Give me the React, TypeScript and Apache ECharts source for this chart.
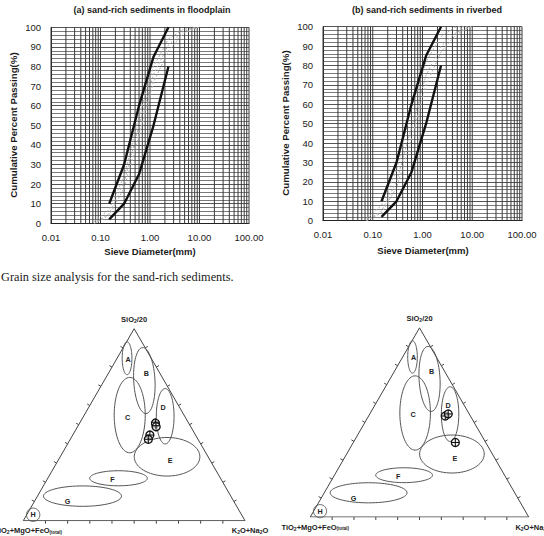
import React, { useEffect, useRef } from 'react';
import * as echarts from 'echarts';

const SANS = '"Liberation Sans", Arial, Helvetica, sans-serif';
const SERIF = '"Liberation Serif", "Times New Roman", serif';

// ---------- grain size data ----------
const envelopeSizes = [0.15, 0.3, 0.6, 1.18, 2.36];
const upperPassing = [10, 30, 60, 85, 100];
const lowerPassing = [2, 10, 25, 50, 80];

const sampleSizes = [0.075, 0.15, 0.3, 0.6, 1.18, 2.36, 4.75, 9.5];
const floodplainSamples = [
  [0, 4, 18, 45, 72, 88, 97, 100],
  [1, 7, 24, 55, 80, 94, 99, 100],
  [0, 5, 21, 50, 76, 91, 98, 100],
];
const riverbedSamples = [
  [0, 5, 20, 48, 75, 90, 97, 100],
  [1, 8, 26, 58, 82, 95, 100, 100],
  [0, 4, 17, 42, 70, 87, 96, 100],
];

const decadeStarts = [0.01, 0.1, 1, 10];
const decadeMultipliers = [1, 2, 3, 4, 5, 6, 7, 8, 9];

// ---------- ternary data ----------
const fieldNames = ['A', 'B', 'C', 'D', 'E', 'F', 'G', 'H'];
const fieldSiO2 = [84.6, 73.0, 55.0, 54.4, 33.3, 22.1, 12.8, 3.1];
const fieldAlkali = [4.5, 18.1, 20.5, 36.8, 48.2, 31.9, 20.3, 2.9];
const fieldRx = [0.022, 0.048, 0.07, 0.04, 0.148, 0.13, 0.176, 0.03];
const fieldRy = [0.074, 0.149, 0.17, 0.125, 0.087, 0.034, 0.046, 0.03];
const fieldTilt = [0, -3, 0, 0, 0, 0, 0, 0];
const labelOffsets = [[1, 1], [2, -7], [-2, 2], [-2, -9], [3, 4], [-6, 1.5], [-15, 5.5], [0, 0]];

const floodplainSiO2 = [51.3, 49.5, 44.6, 42.4];
const floodplainAlkali = [33.9, 35.1, 34.8, 35.2];
const riverbedSiO2 = [53.4, 54.5, 39.4];
const riverbedAlkali = [35.1, 35.9, 46.7];

const tickFractions = [0.1, 0.2, 0.3, 0.4, 0.5, 0.6, 0.7, 0.8, 0.9];

const H3 = Math.sqrt(3) / 2;
function tern(si: number, alk: number): [number, number] {
  const a = si / 100;
  const c = alk / 100;
  return [c + a / 2, a * H3];
}

function buildOption() {
  const logGrid: number[][] = [];
  decadeStarts.forEach((d) => decadeMultipliers.forEach((m) => logGrid.push([d * m, 0])));
  logGrid.push([100, 0]);

  const grainX = (i: number) => ({
    type: 'log',
    logBase: 10,
    gridIndex: i,
    min: 0.01,
    max: 100,
    axisLine: { show: true, lineStyle: { color: '#222', width: 1 } },
    axisTick: { show: false },
    splitLine: { show: false },
    axisLabel: {
      formatter: (v: number) => Number(v).toFixed(2),
      fontSize: 9.5,
      fontFamily: SANS,
      color: '#1a1a1a',
      margin: 9,
    },
  });
  const grainY = (i: number) => ({
    type: 'value',
    gridIndex: i,
    min: 0,
    max: 100,
    interval: 10,
    axisLine: { show: true, lineStyle: { color: '#222', width: 1 } },
    axisTick: { show: false },
    splitLine: { show: true, lineStyle: { color: '#555', width: 1 } },
    minorTick: { show: false, splitNumber: 5 },
    minorSplitLine: { show: true, lineStyle: { color: '#7a7a7a', width: 1 } },
    axisLabel: { fontSize: 9.5, fontFamily: SANS, color: '#1a1a1a', margin: 10 },
  });
  const hidden = (i: number) => ({ type: 'value', gridIndex: i, min: 0, max: 1, show: false });

  const series: any[] = [];
  [0, 1].forEach((g) => {
    series.push({
      type: 'custom',
      xAxisIndex: g,
      yAxisIndex: g,
      silent: true,
      z: 1,
      data: logGrid,
      encode: { x: 0, y: 1 },
      renderItem: (_p: any, api: any) => {
        const v = api.value(0);
        const p1 = api.coord([v, 0]);
        const p2 = api.coord([v, 100]);
        return {
          type: 'line',
          shape: { x1: p1[0], y1: p1[1], x2: p2[0], y2: p2[1] },
          style: { stroke: '#3a3a3a', lineWidth: 1 },
        };
      },
    });
    const samples = g === 0 ? floodplainSamples : riverbedSamples;
    samples.forEach((s) => {
      series.push({
        type: 'line',
        xAxisIndex: g,
        yAxisIndex: g,
        data: sampleSizes.map((x, k) => [x, s[k]]),
        symbol: 'none',
        z: 3,
        lineStyle: { color: '#b0b0b0', width: 1, type: [2, 2] },
      });
    });
    [upperPassing, lowerPassing].forEach((env) => {
      series.push({
        type: 'line',
        xAxisIndex: g,
        yAxisIndex: g,
        data: envelopeSizes.map((x, k) => [x, env[k]]),
        symbol: 'none',
        z: 5,
        lineStyle: { color: '#111', width: 2.4 },
      });
    });
  });

  const fieldData = fieldNames.map((_n, i) => {
    const [x, y] = tern(fieldSiO2[i], fieldAlkali[i]);
    return [x, y, fieldRx[i], fieldRy[i], fieldTilt[i], i];
  });
  const tickData: number[][] = [];
  [0, 1, 2].forEach((side) => tickFractions.forEach((f) => tickData.push([side, f])));

  [2, 3].forEach((g) => {
    series.push({
      type: 'line',
      xAxisIndex: g,
      yAxisIndex: g,
      data: [[0, 0], [1, 0], [0.5, H3], [0, 0]],
      symbol: 'none',
      z: 2,
      lineStyle: { color: '#444', width: 1 },
    });
    series.push({
      type: 'custom',
      xAxisIndex: g,
      yAxisIndex: g,
      silent: true,
      z: 2,
      data: tickData,
      renderItem: (_p: any, api: any) => {
        const side = api.value(0);
        const f = api.value(1);
        let pt: number[];
        let n: number[];
        if (side === 0) {
          pt = [f, 0];
          n = [0, 1];
        } else if (side === 1) {
          pt = [f * 0.5, f * H3];
          n = [-H3, -0.5];
        } else {
          pt = [1 - f * 0.5, f * H3];
          n = [H3, -0.5];
        }
        const c = api.coord(pt);
        return {
          type: 'line',
          shape: { x1: c[0], y1: c[1], x2: c[0] + n[0] * 3, y2: c[1] + n[1] * 3 },
          style: { stroke: '#444', lineWidth: 1 },
        };
      },
    });
    series.push({
      type: 'custom',
      xAxisIndex: g,
      yAxisIndex: g,
      silent: true,
      z: 3,
      data: fieldData,
      renderItem: (_p: any, api: any) => {
        const c = api.coord([api.value(0), api.value(1)]);
        const s = api.size([api.value(2), api.value(3)]);
        const rot = (api.value(4) * Math.PI) / 180;
        const idx = api.value(5);
        const pts: number[][] = [];
        for (let k = 0; k < 72; k++) {
          const t = (k / 72) * Math.PI * 2;
          const ex = s[0] * Math.cos(t);
          const ey = s[1] * Math.sin(t);
          pts.push([c[0] + ex * Math.cos(rot) - ey * Math.sin(rot), c[1] + ex * Math.sin(rot) + ey * Math.cos(rot)]);
        }
        const off = labelOffsets[idx];
        return {
          type: 'group',
          children: [
            { type: 'polygon', shape: { points: pts }, style: { fill: 'none', stroke: '#555', lineWidth: 1 } },
            {
              type: 'text',
              x: c[0] + off[0],
              y: c[1] + off[1],
              style: {
                text: fieldNames[idx],
                font: 'bold 7.2px ' + SANS,
                fill: '#222',
                align: 'center',
                verticalAlign: 'middle',
              },
            },
          ],
        };
      },
    });
    const si = g === 2 ? floodplainSiO2 : riverbedSiO2;
    const al = g === 2 ? floodplainAlkali : riverbedAlkali;
    series.push({
      type: 'custom',
      xAxisIndex: g,
      yAxisIndex: g,
      silent: true,
      z: 4,
      data: si.map((v, k) => tern(v, al[k])),
      renderItem: (_p: any, api: any) => {
        const c = api.coord([api.value(0), api.value(1)]);
        const r = 4;
        return {
          type: 'group',
          children: [
            { type: 'circle', shape: { cx: c[0], cy: c[1], r }, style: { fill: 'rgba(255,255,255,0.6)', stroke: '#111', lineWidth: 1.3 } },
            { type: 'line', shape: { x1: c[0] - r, y1: c[1], x2: c[0] + r, y2: c[1] }, style: { stroke: '#111', lineWidth: 1.1 } },
            { type: 'line', shape: { x1: c[0], y1: c[1] - r, x2: c[0], y2: c[1] + r }, style: { stroke: '#111', lineWidth: 1.1 } },
          ],
        };
      },
    });
  });

  const txt = (x: number, y: number, text: string, font: string, align = 'center', extra: any = {}) => ({
    type: 'text',
    x,
    y,
    silent: true,
    ...extra,
    style: { text, font, fill: '#1a1a1a', textAlign: align, textVerticalAlign: 'middle' },
  });
  const subRich = {
    s: { font: 'bold 5px ' + SANS, fill: '#222', verticalAlign: 'bottom', padding: [3, 0, 0, 0] },
    t: { font: 'bold 4.5px ' + SANS, fill: '#222', verticalAlign: 'bottom', padding: [3, 0, 0, 0] },
    m: { font: 'bold 7.5px ' + SANS, fill: '#222' },
  };
  const ternLabels = (ox: number, oy: number, w: number) => {
    const apexX = ox + w / 2;
    const apexY = oy - w * H3;
    return [
      {
        type: 'text', x: apexX, y: apexY - 9, silent: true,
        style: { text: '{m|SiO}{s|2}{m|/20}', rich: subRich, textAlign: 'center', textVerticalAlign: 'middle' },
      },
      {
        type: 'text', x: ox + 5, y: oy + 10, silent: true,
        style: { text: '{m|TiO}{s|2}{m|+MgO+FeO}{t|(total)}', rich: subRich, textAlign: 'center', textVerticalAlign: 'middle' },
      },
      {
        type: 'text', x: ox + w + 5, y: oy + 10, silent: true,
        style: { text: '{m|K}{s|2}{m|O+Na}{s|2}{m|O}', rich: subRich, textAlign: 'center', textVerticalAlign: 'middle' },
      },
    ];
  };

  const graphic: any[] = [
    txt(152, 10, '(a) sand-rich sediments in floodplain', 'bold 9px ' + SANS),
    txt(427, 10, '(b) sand-rich sediments in riverbed', 'bold 9px ' + SANS),
    txt(13, 125, 'Cumulative Percent Passing(%)', 'bold 9.7px ' + SANS, 'center', { rotation: Math.PI / 2 }),
    txt(285, 123, 'Cumulative Percent Passing(%)', 'bold 9.7px ' + SANS, 'center', { rotation: Math.PI / 2 }),
    txt(150, 251.5, 'Sieve Diameter(mm)', 'bold 9.5px ' + SANS),
    txt(423, 250, 'Sieve Diameter(mm)', 'bold 9.5px ' + SANS),
    txt(1, 276.7, 'Grain size analysis for the sand-rich sediments.', '12.3px ' + SERIF, 'left'),
    ...ternLabels(23.3, 520.7, 221.7),
    ...ternLabels(310.3, 517, 218.4),
  ];

  return {
    animation: false,
    backgroundColor: '#ffffff',
    grid: [
      { left: 51, top: 27.3, width: 198, height: 196 },
      { left: 323, top: 26.7, width: 199, height: 194 },
      { left: 23.3, top: 299, width: 221.7, height: 221.7 },
      { left: 310.3, top: 298.6, width: 218.4, height: 218.4 },
    ],
    xAxis: [grainX(0), grainX(1), hidden(2), hidden(3)],
    yAxis: [grainY(0), grainY(1), hidden(2), hidden(3)],
    series,
    graphic,
  };
}

export default function App() {
  const ref = useRef<HTMLDivElement>(null);
  useEffect(() => {
    if (!ref.current) return;
    const chart = echarts.init(ref.current, undefined, { renderer: 'svg' });
    chart.setOption(buildOption() as any);
    return () => chart.dispose();
  }, []);
  return (
    <div
      ref={ref}
      style={{ position: 'absolute', left: 0, top: 0, width: 544, height: 536, background: '#fff' }}
    />
  );
}
